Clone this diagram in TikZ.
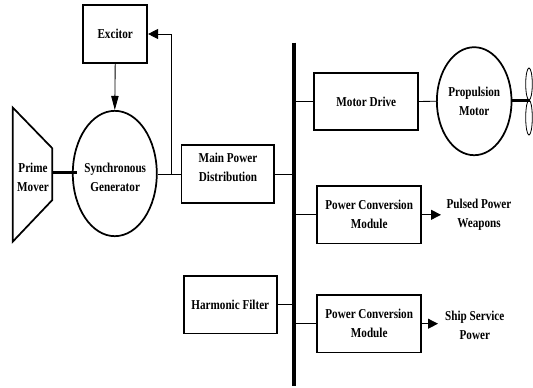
\documentclass[tikz,border=0pt]{standalone}
\usepackage{fontspec}
\setmainfont[FakeStretch=0.82]{Liberation Serif}
\usetikzlibrary{arrows.meta,shapes.geometric}
\tikzset{
  x=0.75pt,y=-0.75pt,
  txt/.style={font=\fontsize{10.2pt}{14.2pt}\selectfont\bfseries,align=center},
  blk/.style={draw,line width=1.3pt,inner sep=0pt,txt,minimum height=43pt},
  lbl/.style={inner sep=0pt,txt},
  rnd/.style={draw,ellipse,line width=1.3pt,inner sep=0pt,txt},
  conn/.style={line width=0.65pt},
  arrsmall/.style={conn,-{Triangle[length=10.5pt,width=5.5pt]}},
  arrbig/.style={conn,-{Triangle[length=7.5pt,width=7.5pt]}},
  shaft/.style={line width=2.6pt},
  blade/.style={line width=0.6pt}
}
\begin{document}
\begin{tikzpicture}
\useasboundingbox (0,0) rectangle (533,387);
\node[blk,minimum width=48pt] (exc) at (115.2,34) {Excitor};
\node[rnd,minimum width=63pt,minimum height=94pt] (gen) at (114.8,173.5) {};
\node[lbl] (gentxt) at (115.2,177) {Synchronous\\Generator};
\node[blk,minimum width=69.5pt] (mpd) at (227.7,174) {};
\node[lbl] (mpdtxt) at (228,167.5) {Main Power\\Distribution};
\node[blk,minimum width=69.5pt] (hf) at (230.3,304.7) {Harmonic Filter};
\node[blk,minimum width=78pt] (md) at (366.3,101.5) {Motor Drive};
\node[rnd,minimum width=56pt,minimum height=81pt] (pm) at (474.2,101.2) {Propulsion\\Motor};
\node[blk,minimum width=78pt] (pc1) at (369.2,214.8) {Power Conversion\\Module};
\node[blk,minimum width=78pt] (pc2) at (369.2,323.7) {Power Conversion\\Module};
\node[lbl] (pw) at (479,214.5) {Pulsed Power\\Weapons};
\node[lbl] (ss) at (474.8,325) {Ship Service\\Power};
\draw[line width=1.3pt] (12.7,107.5) -- (52.3,148.3) -- (52.3,200) -- (12.7,241.7) -- cycle;
\node[lbl] (pmv) at (33,177.5) {Prime\\Mover};
\coordinate (pmr) at (52.3,172.5);
\coordinate (genin) at (77,172.5);
\coordinate (bt) at (294.2,42.5);
\coordinate (bb) at (294.2,386);
\draw[line width=3.4pt] (bt) -- (bb);
\coordinate (junc) at (171.7,174);
\coordinate (excin) at (171.7,34);
\draw[shaft] (pmr) -- (genin);
\draw[conn] (gen.east |- junc) -- (mpd.west);
\draw[arrbig] (junc) -- (excin) -- (exc.east);
\draw[arrsmall] (exc.south) -- (gen.north);
\draw[conn] (mpd.east) -- (mpd.east -| bt);
\draw[conn] (hf.east) -- (hf.east -| bt);
\draw[conn] (md.west) -- (md.west -| bt);
\draw[conn] (pc1.west) -- (pc1.west -| bt);
\draw[conn] (pc2.west) -- (pc2.west -| bt);
\draw[conn] (md.east) -- (pm.west);
\coordinate (pwin) at (441,214.8);
\coordinate (ssin) at (438,323.7);
\draw[arrbig] (pc1.east) -- (pwin);
\draw[arrbig] (pc2.east) -- (ssin);
\coordinate (hub) at (530,100.5);
\draw[shaft] (pm.east |- hub) -- (hub);
\draw[blade] (529,84) ellipse (3.3 and 16);
\draw[blade] (529,117.5) ellipse (3.3 and 17.5);
\end{tikzpicture}
\end{document}
